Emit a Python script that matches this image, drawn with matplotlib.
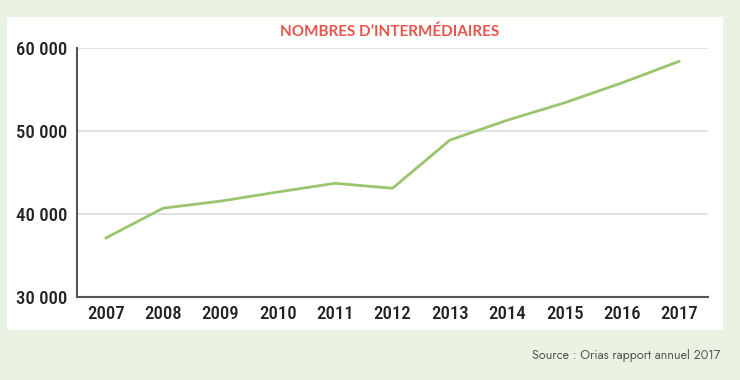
import matplotlib.pyplot as plt
from matplotlib.patches import Rectangle
from matplotlib.ticker import FuncFormatter

years = [2007, 2008, 2009, 2010, 2011, 2012, 2013, 2014, 2015, 2016, 2017]
intermediaires = [37100, 40700, 41550, 42650, 43700, 43100, 48900, 51300, 53400, 55800, 58400]
y_ticks = [30000, 40000, 50000, 60000]

#  condensed font for the ticks, Futura-like one for the source
narrow = ["Roboto Condensed", "Archivo Narrow", "DejaVu Sans"]
futura = ["Jost", "DejaVu Sans"]

fig = plt.figure(figsize=(7.4, 3.8), dpi=100)
fig.patch.set_facecolor("#eaf3e1")

#  white panel behind the chart
fig.patches.append(Rectangle((7 / 740, 1 - 330 / 380), 716 / 740, 313 / 380,
                             transform=fig.transFigure, facecolor="white",
                             edgecolor="none", zorder=-5))

ax = fig.add_axes([77 / 740, 1 - 297 / 380, 631 / 740, 249 / 380])
ax.set_zorder(2)
ax.set_facecolor("none")
ax.plot(years, intermediaires, color="#9cc46e", linewidth=2, solid_capstyle="round", zorder=3)

ax.set_xlim(2006.5, 2017.5)
ax.set_ylim(30000, 60000)
ax.set_xticks(years)
ax.set_yticks(y_ticks)
ax.yaxis.set_major_formatter(FuncFormatter(lambda v, p: f"{int(v):,}".replace(",", " ")))

for t in ax.get_xticklabels() + ax.get_yticklabels():
    t.set_fontfamily(narrow)
    t.set_fontsize(13.5)
    t.set_fontweight(500)
    t.set_color("#222222")
ax.tick_params(length=0, pad=6)
ax.tick_params(axis="y", pad=7)

ax.grid(axis="y", color="#dddddd", linewidth=1.2)
ax.set_axisbelow(True)
for s in ["top", "right"]:
    ax.spines[s].set_visible(False)
for s in ["left", "bottom"]:
    ax.spines[s].set_color("#555555")
    ax.spines[s].set_linewidth(1.5)

fig.text(390 / 740, 1 - 32 / 380, "NOMBRES D’INTERMÉDIAIRES", color="#e8534a",
         fontsize=11, fontweight="bold", family=["Lato", "DejaVu Sans"],
         ha="center", va="center", zorder=3)
fig.text(720 / 740, 1 - 355 / 380, "Source : Orias rapport annuel 2017", color="#555555",
         fontsize=9, family=futura, ha="right", va="center")

plt.savefig("out.png", dpi=100, facecolor=fig.get_facecolor())
